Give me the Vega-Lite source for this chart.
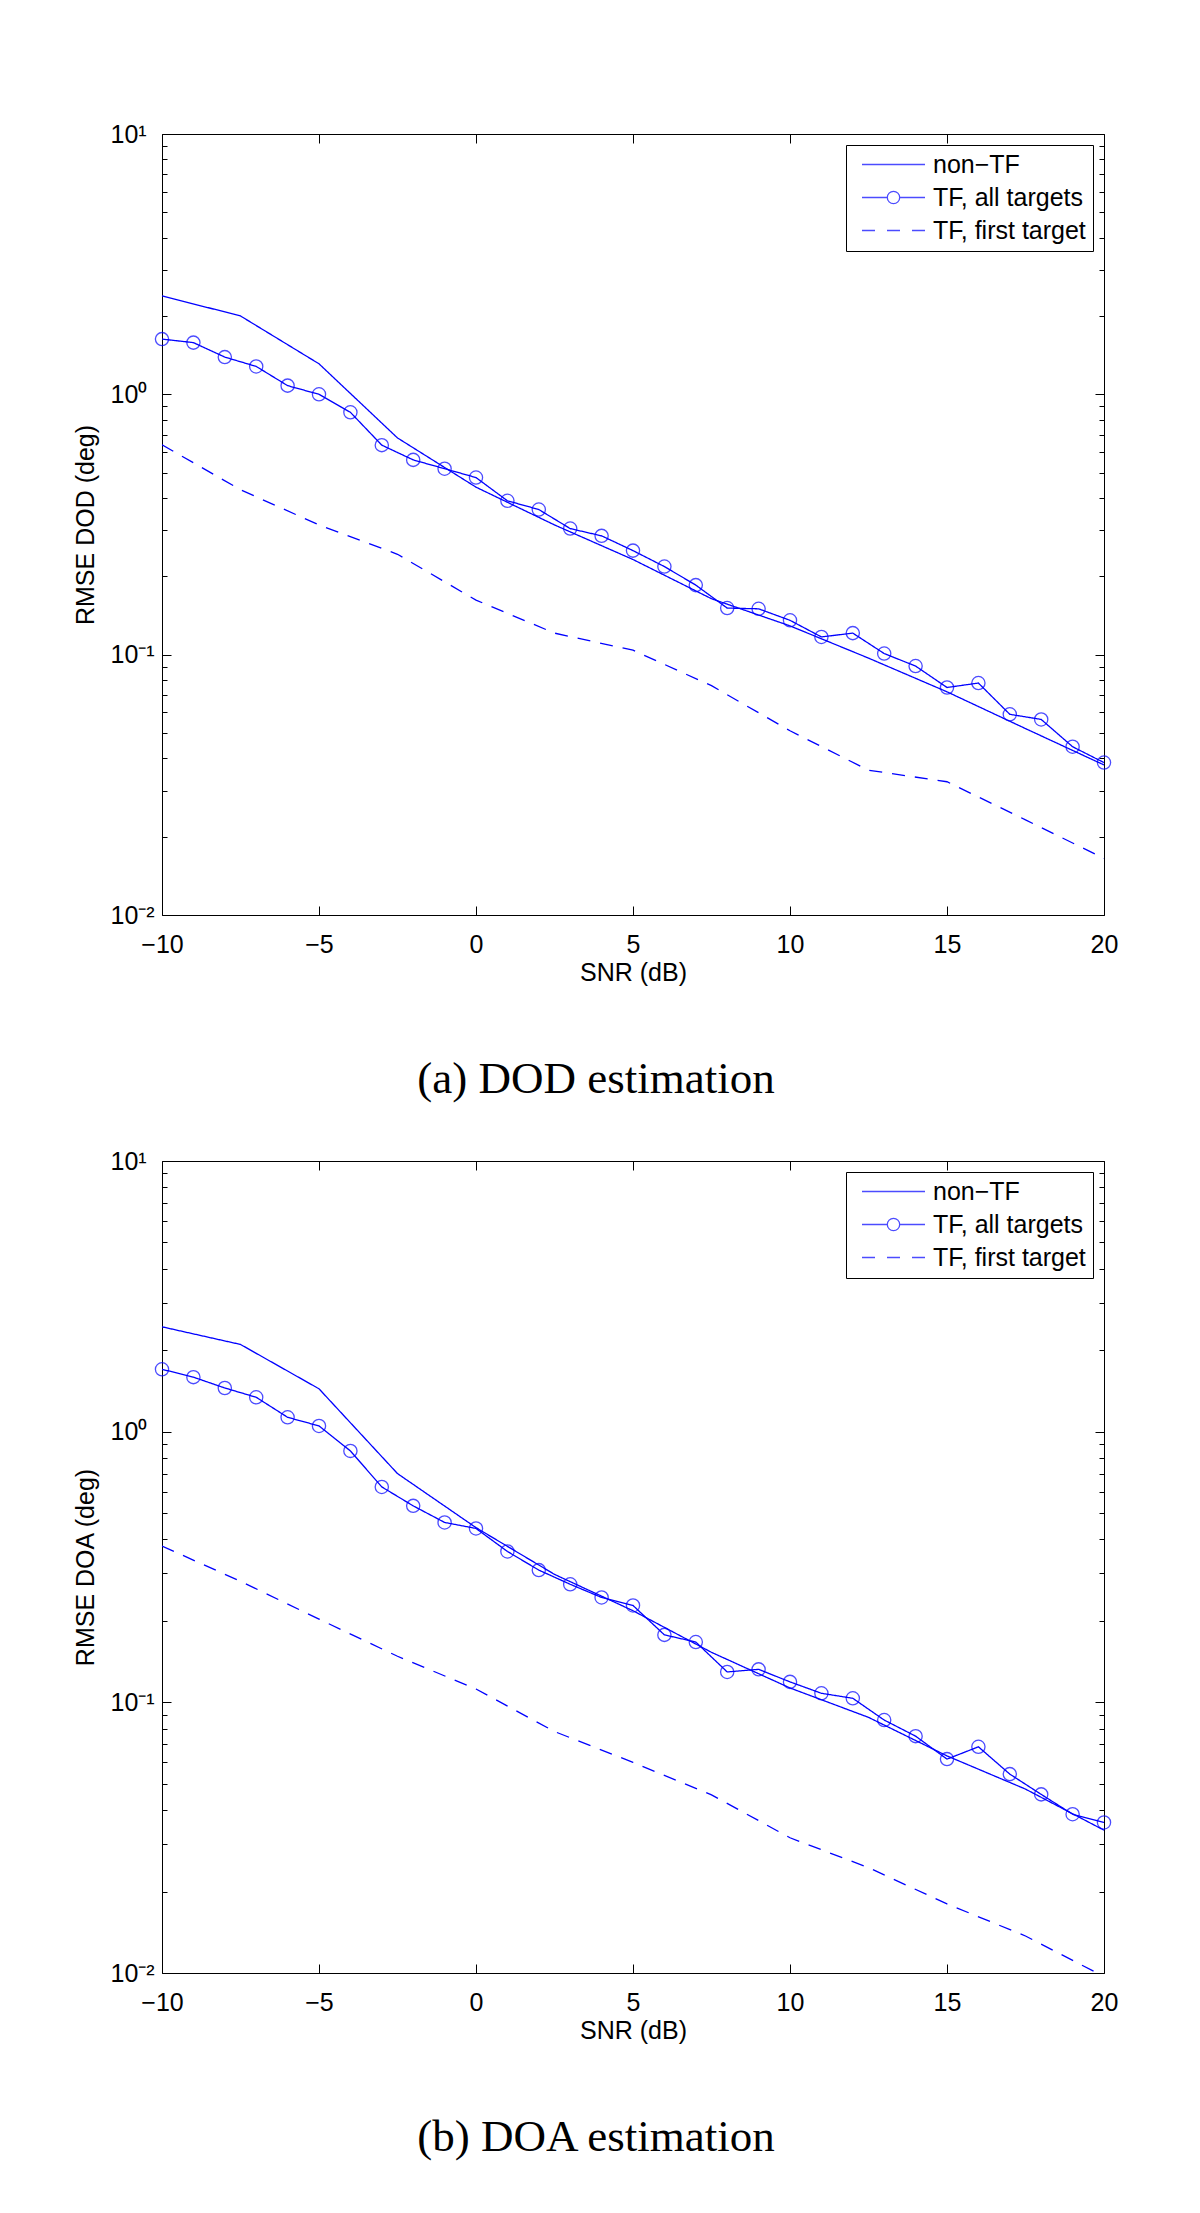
{
  "$schema": "https://vega.github.io/schema/vega-lite/v6.json",
  "background": "white",
  "padding": {"left": 73, "top": 122, "right": 10, "bottom": 10},
  "spacing": 47,
  "resolve": {"scale": {"shape": "independent", "strokeDash": "independent"}, "legend": {"shape": "independent", "strokeDash": "independent"}},
  "datasets": {
    "dod": [
      {"snr": -10, "rmse": 2.39, "series": "non−TF"},
      {"snr": -7.5, "rmse": 2.0, "series": "non−TF"},
      {"snr": -5, "rmse": 1.31, "series": "non−TF"},
      {"snr": -2.5, "rmse": 0.68, "series": "non−TF"},
      {"snr": 0, "rmse": 0.44, "series": "non−TF"},
      {"snr": 2.5, "rmse": 0.315, "series": "non−TF"},
      {"snr": 5, "rmse": 0.232, "series": "non−TF"},
      {"snr": 7.5, "rmse": 0.164, "series": "non−TF"},
      {"snr": 10, "rmse": 0.129, "series": "non−TF"},
      {"snr": 12.5, "rmse": 0.097, "series": "non−TF"},
      {"snr": 15, "rmse": 0.072, "series": "non−TF"},
      {"snr": 17.5, "rmse": 0.052, "series": "non−TF"},
      {"snr": 20, "rmse": 0.0377, "series": "non−TF"},
      {"snr": -10, "rmse": 1.63, "series": "TF, all targets"},
      {"snr": -9, "rmse": 1.58, "series": "TF, all targets"},
      {"snr": -8, "rmse": 1.39, "series": "TF, all targets"},
      {"snr": -7, "rmse": 1.28, "series": "TF, all targets"},
      {"snr": -6, "rmse": 1.08, "series": "TF, all targets"},
      {"snr": -5, "rmse": 1.0, "series": "TF, all targets"},
      {"snr": -4, "rmse": 0.853, "series": "TF, all targets"},
      {"snr": -3, "rmse": 0.638, "series": "TF, all targets"},
      {"snr": -2, "rmse": 0.56, "series": "TF, all targets"},
      {"snr": -1, "rmse": 0.518, "series": "TF, all targets"},
      {"snr": 0, "rmse": 0.479, "series": "TF, all targets"},
      {"snr": 1, "rmse": 0.39, "series": "TF, all targets"},
      {"snr": 2, "rmse": 0.361, "series": "TF, all targets"},
      {"snr": 3, "rmse": 0.305, "series": "TF, all targets"},
      {"snr": 4, "rmse": 0.286, "series": "TF, all targets"},
      {"snr": 5, "rmse": 0.251, "series": "TF, all targets"},
      {"snr": 6, "rmse": 0.218, "series": "TF, all targets"},
      {"snr": 7, "rmse": 0.185, "series": "TF, all targets"},
      {"snr": 8, "rmse": 0.151, "series": "TF, all targets"},
      {"snr": 9, "rmse": 0.15, "series": "TF, all targets"},
      {"snr": 10, "rmse": 0.1355, "series": "TF, all targets"},
      {"snr": 11, "rmse": 0.117, "series": "TF, all targets"},
      {"snr": 12, "rmse": 0.121, "series": "TF, all targets"},
      {"snr": 13, "rmse": 0.101, "series": "TF, all targets"},
      {"snr": 14, "rmse": 0.0904, "series": "TF, all targets"},
      {"snr": 15, "rmse": 0.0748, "series": "TF, all targets"},
      {"snr": 16, "rmse": 0.0778, "series": "TF, all targets"},
      {"snr": 17, "rmse": 0.059, "series": "TF, all targets"},
      {"snr": 18, "rmse": 0.0564, "series": "TF, all targets"},
      {"snr": 19, "rmse": 0.0443, "series": "TF, all targets"},
      {"snr": 20, "rmse": 0.0385, "series": "TF, all targets"},
      {"snr": -10, "rmse": 0.64, "series": "TF, first target"},
      {"snr": -7.5, "rmse": 0.43, "series": "TF, first target"},
      {"snr": -5, "rmse": 0.315, "series": "TF, first target"},
      {"snr": -2.5, "rmse": 0.243, "series": "TF, first target"},
      {"snr": 0, "rmse": 0.162, "series": "TF, first target"},
      {"snr": 2.5, "rmse": 0.121, "series": "TF, first target"},
      {"snr": 5, "rmse": 0.104, "series": "TF, first target"},
      {"snr": 7.5, "rmse": 0.076, "series": "TF, first target"},
      {"snr": 10, "rmse": 0.051, "series": "TF, first target"},
      {"snr": 12.5, "rmse": 0.036, "series": "TF, first target"},
      {"snr": 15, "rmse": 0.0325, "series": "TF, first target"},
      {"snr": 17.5, "rmse": 0.0232, "series": "TF, first target"},
      {"snr": 20, "rmse": 0.0165, "series": "TF, first target"}
    ],
    "doa": [
      {"snr": -10, "rmse": 2.44, "series": "non−TF"},
      {"snr": -7.5, "rmse": 2.1, "series": "non−TF"},
      {"snr": -5, "rmse": 1.44, "series": "non−TF"},
      {"snr": -2.5, "rmse": 0.7, "series": "non−TF"},
      {"snr": 0, "rmse": 0.442, "series": "non−TF"},
      {"snr": 2.5, "rmse": 0.297, "series": "non−TF"},
      {"snr": 5, "rmse": 0.218, "series": "non−TF"},
      {"snr": 7.5, "rmse": 0.153, "series": "non−TF"},
      {"snr": 10, "rmse": 0.113, "series": "non−TF"},
      {"snr": 12.5, "rmse": 0.088, "series": "non−TF"},
      {"snr": 15, "rmse": 0.0634, "series": "non−TF"},
      {"snr": 17.5, "rmse": 0.0478, "series": "non−TF"},
      {"snr": 20, "rmse": 0.0337, "series": "non−TF"},
      {"snr": -10, "rmse": 1.7, "series": "TF, all targets"},
      {"snr": -9, "rmse": 1.59, "series": "TF, all targets"},
      {"snr": -8, "rmse": 1.45, "series": "TF, all targets"},
      {"snr": -7, "rmse": 1.34, "series": "TF, all targets"},
      {"snr": -6, "rmse": 1.13, "series": "TF, all targets"},
      {"snr": -5, "rmse": 1.05, "series": "TF, all targets"},
      {"snr": -4, "rmse": 0.849, "series": "TF, all targets"},
      {"snr": -3, "rmse": 0.625, "series": "TF, all targets"},
      {"snr": -2, "rmse": 0.532, "series": "TF, all targets"},
      {"snr": -1, "rmse": 0.462, "series": "TF, all targets"},
      {"snr": 0, "rmse": 0.439, "series": "TF, all targets"},
      {"snr": 1, "rmse": 0.361, "series": "TF, all targets"},
      {"snr": 2, "rmse": 0.308, "series": "TF, all targets"},
      {"snr": 3, "rmse": 0.273, "series": "TF, all targets"},
      {"snr": 4, "rmse": 0.244, "series": "TF, all targets"},
      {"snr": 5, "rmse": 0.228, "series": "TF, all targets"},
      {"snr": 6, "rmse": 0.1775, "series": "TF, all targets"},
      {"snr": 7, "rmse": 0.167, "series": "TF, all targets"},
      {"snr": 8, "rmse": 0.1295, "series": "TF, all targets"},
      {"snr": 9, "rmse": 0.1324, "series": "TF, all targets"},
      {"snr": 10, "rmse": 0.119, "series": "TF, all targets"},
      {"snr": 11, "rmse": 0.108, "series": "TF, all targets"},
      {"snr": 12, "rmse": 0.1035, "series": "TF, all targets"},
      {"snr": 13, "rmse": 0.086, "series": "TF, all targets"},
      {"snr": 14, "rmse": 0.075, "series": "TF, all targets"},
      {"snr": 15, "rmse": 0.0617, "series": "TF, all targets"},
      {"snr": 16, "rmse": 0.0685, "series": "TF, all targets"},
      {"snr": 17, "rmse": 0.0543, "series": "TF, all targets"},
      {"snr": 18, "rmse": 0.0457, "series": "TF, all targets"},
      {"snr": 19, "rmse": 0.0386, "series": "TF, all targets"},
      {"snr": 20, "rmse": 0.036, "series": "TF, all targets"},
      {"snr": -10, "rmse": 0.378, "series": "TF, first target"},
      {"snr": -7.5, "rmse": 0.28, "series": "TF, first target"},
      {"snr": -5, "rmse": 0.203, "series": "TF, first target"},
      {"snr": -2.5, "rmse": 0.148, "series": "TF, first target"},
      {"snr": 0, "rmse": 0.112, "series": "TF, first target"},
      {"snr": 2.5, "rmse": 0.078, "series": "TF, first target"},
      {"snr": 5, "rmse": 0.06, "series": "TF, first target"},
      {"snr": 7.5, "rmse": 0.0455, "series": "TF, first target"},
      {"snr": 10, "rmse": 0.0316, "series": "TF, first target"},
      {"snr": 12.5, "rmse": 0.0245, "series": "TF, first target"},
      {"snr": 15, "rmse": 0.018, "series": "TF, first target"},
      {"snr": 17.5, "rmse": 0.0137, "series": "TF, first target"},
      {"snr": 20, "rmse": 0.0097, "series": "TF, first target"}
    ]
  },
  "config": {
    "view": {"stroke": null},
    "axis": {
      "grid": false,
      "domainColor": "black",
      "tickColor": "black",
      "labelColor": "black",
      "titleColor": "black",
      "labelFont": "Liberation Sans",
      "titleFont": "Liberation Sans",
      "labelFontSize": 25,
      "titleFontSize": 25,
      "titleFontWeight": "normal",
      "labelFlush": false,
      "labelOverlap": false,
      "domainWidth": 1,
      "tickWidth": 1
    },
    "legend": {
      "orient": "top-right",
      "offset": 11,
      "padding": 7,
      "strokeColor": "black",
      "fillColor": "white",
      "symbolSize": 100,
      "symbolStrokeWidth": 1.3,
      "symbolStrokeColor": "#0000ff",
      "symbolFillColor": "transparent",
      "symbolOffset": 28,
      "labelOffset": 27,
      "labelFont": "Liberation Sans",
      "labelFontSize": 25,
      "labelColor": "black",
      "rowPadding": 7
    },
    "title": {
      "font": "Liberation Serif",
      "fontSize": 45,
      "fontWeight": "normal",
      "color": "black"
    }
  },
  "vconcat": [
    {
      "width": 942,
      "height": 781,
      "title": {"text": "(a) DOD estimation", "orient": "bottom", "offset": 72, "dx": -37},
      "data": {"name": "dod"},
      "resolve": {"axis": {"x": "independent", "y": "independent"}},
      "layer": [
        {
          "mark": {"type": "line", "color": "#0000ff", "strokeWidth": 1.3, "clip": true},
          "encoding": {
            "x": {"field": "snr", "type": "quantitative", "scale": {"domain": [-10, 20], "nice": false, "zero": false},
              "axis": {"orient": "bottom", "values": [-10, -5, 0, 5, 10, 15, 20], "tickSize": -9, "labelPadding": 26, "title": "SNR (dB)", "titlePadding": 3}},
            "y": {"field": "rmse", "type": "quantitative", "scale": {"type": "log", "domain": [0.01, 10], "nice": false},
              "axis": {"orient": "left", "values": [0.01, 0.1, 1, 10], "tickSize": -9, "labelPadding": 61, "labelAlign": "left",
                "labelExpr": "datum.value >= 5 ? '10¹' : datum.value >= 0.5 ? '10⁰' : datum.value >= 0.05 ? '10⁻¹' : '10⁻²'",
                "title": "RMSE DOD (deg)", "titlePadding": 12}},
            "strokeDash": {"field": "series", "type": "nominal",
              "scale": {"domain": ["TF, first target", "TF, all targets", "non−TF"], "range": [[13, 10], [1, 0], [1, 0]]}, "legend": null}
          }
        },
        {
          "transform": [{"filter": "datum.series === 'TF, all targets'"}],
          "mark": {"type": "point", "shape": "circle", "filled": false, "color": "#0000ff", "size": 175, "strokeWidth": 1.3},
          "encoding": {
            "x": {"field": "snr", "type": "quantitative", "scale": {"domain": [-10, 20], "nice": false, "zero": false},
              "axis": {"orient": "top", "values": [-10, -5, 0, 5, 10, 15, 20], "tickSize": -9, "labels": false, "title": null}},
            "y": {"field": "rmse", "type": "quantitative", "scale": {"type": "log", "domain": [0.01, 10], "nice": false},
              "axis": {"orient": "right", "values": [0.01, 0.1, 1, 10], "tickSize": -9, "labels": false, "title": null}}
          }
        },
        {
          "transform": [{"filter": "datum.snr > 100"}],
          "mark": {"type": "point", "filled": false, "color": "#0000ff", "strokeWidth": 1.3},
          "encoding": {
            "x": {"field": "snr", "type": "quantitative", "scale": {"domain": [-10, 20], "nice": false, "zero": false}, "axis": null},
            "y": {"field": "rmse", "type": "quantitative", "scale": {"type": "log", "domain": [0.01, 10], "nice": false},
              "axis": {"orient": "left", "values": [0.02, 0.03, 0.04, 0.05, 0.06, 0.07, 0.08, 0.09, 0.2, 0.3, 0.4, 0.5, 0.6, 0.7, 0.8, 0.9, 2, 3, 4, 5, 6, 7, 8, 9], "tickSize": -5, "labels": false, "domain": false, "title": null}},
            "shape": {"field": "series", "type": "nominal",
              "scale": {"domain": ["non−TF", "TF, all targets", "TF, first target"],
                "range": ["M-6.3,0H6.3", "M-6.3,0H-1.24M1.24,0H6.3M1.24,0A1.24,1.24,0,1,1,-1.24,0A1.24,1.24,0,1,1,1.24,0", "M-6.3,0H-3.7M-1.3,0H1.3M3.7,0H6.3"]},
              "legend": {"title": null}}
          }
        },
        {
          "mark": {"type": "point", "opacity": 0},
          "encoding": {
            "x": {"field": "snr", "type": "quantitative", "scale": {"domain": [-10, 20], "nice": false, "zero": false}, "axis": null},
            "y": {"field": "rmse", "type": "quantitative", "scale": {"type": "log", "domain": [0.01, 10], "nice": false},
              "axis": {"orient": "right", "values": [0.02, 0.03, 0.04, 0.05, 0.06, 0.07, 0.08, 0.09, 0.2, 0.3, 0.4, 0.5, 0.6, 0.7, 0.8, 0.9, 2, 3, 4, 5, 6, 7, 8, 9], "tickSize": -5, "labels": false, "domain": false, "title": null}}
          }
        }
      ]
    },
    {
      "width": 942,
      "height": 812,
      "title": {"text": "(b) DOA estimation", "orient": "bottom", "offset": 72, "dx": -37},
      "data": {"name": "doa"},
      "resolve": {"axis": {"x": "independent", "y": "independent"}},
      "layer": [
        {
          "mark": {"type": "line", "color": "#0000ff", "strokeWidth": 1.3, "clip": true},
          "encoding": {
            "x": {"field": "snr", "type": "quantitative", "scale": {"domain": [-10, 20], "nice": false, "zero": false},
              "axis": {"orient": "bottom", "values": [-10, -5, 0, 5, 10, 15, 20], "tickSize": -9, "labelPadding": 26, "title": "SNR (dB)", "titlePadding": 3}},
            "y": {"field": "rmse", "type": "quantitative", "scale": {"type": "log", "domain": [0.01, 10], "nice": false},
              "axis": {"orient": "left", "values": [0.01, 0.1, 1, 10], "tickSize": -9, "labelPadding": 61, "labelAlign": "left",
                "labelExpr": "datum.value >= 5 ? '10¹' : datum.value >= 0.5 ? '10⁰' : datum.value >= 0.05 ? '10⁻¹' : '10⁻²'",
                "title": "RMSE DOA (deg)", "titlePadding": 12}},
            "strokeDash": {"field": "series", "type": "nominal",
              "scale": {"domain": ["TF, first target", "TF, all targets", "non−TF"], "range": [[13, 10], [1, 0], [1, 0]]}, "legend": null}
          }
        },
        {
          "transform": [{"filter": "datum.series === 'TF, all targets'"}],
          "mark": {"type": "point", "shape": "circle", "filled": false, "color": "#0000ff", "size": 175, "strokeWidth": 1.3},
          "encoding": {
            "x": {"field": "snr", "type": "quantitative", "scale": {"domain": [-10, 20], "nice": false, "zero": false},
              "axis": {"orient": "top", "values": [-10, -5, 0, 5, 10, 15, 20], "tickSize": -9, "labels": false, "title": null}},
            "y": {"field": "rmse", "type": "quantitative", "scale": {"type": "log", "domain": [0.01, 10], "nice": false},
              "axis": {"orient": "right", "values": [0.01, 0.1, 1, 10], "tickSize": -9, "labels": false, "title": null}}
          }
        },
        {
          "transform": [{"filter": "datum.snr > 100"}],
          "mark": {"type": "point", "filled": false, "color": "#0000ff", "strokeWidth": 1.3},
          "encoding": {
            "x": {"field": "snr", "type": "quantitative", "scale": {"domain": [-10, 20], "nice": false, "zero": false}, "axis": null},
            "y": {"field": "rmse", "type": "quantitative", "scale": {"type": "log", "domain": [0.01, 10], "nice": false},
              "axis": {"orient": "left", "values": [0.02, 0.03, 0.04, 0.05, 0.06, 0.07, 0.08, 0.09, 0.2, 0.3, 0.4, 0.5, 0.6, 0.7, 0.8, 0.9, 2, 3, 4, 5, 6, 7, 8, 9], "tickSize": -5, "labels": false, "domain": false, "title": null}},
            "shape": {"field": "series", "type": "nominal",
              "scale": {"domain": ["non−TF", "TF, all targets", "TF, first target"],
                "range": ["M-6.3,0H6.3", "M-6.3,0H-1.24M1.24,0H6.3M1.24,0A1.24,1.24,0,1,1,-1.24,0A1.24,1.24,0,1,1,1.24,0", "M-6.3,0H-3.7M-1.3,0H1.3M3.7,0H6.3"]},
              "legend": {"title": null}}
          }
        },
        {
          "mark": {"type": "point", "opacity": 0},
          "encoding": {
            "x": {"field": "snr", "type": "quantitative", "scale": {"domain": [-10, 20], "nice": false, "zero": false}, "axis": null},
            "y": {"field": "rmse", "type": "quantitative", "scale": {"type": "log", "domain": [0.01, 10], "nice": false},
              "axis": {"orient": "right", "values": [0.02, 0.03, 0.04, 0.05, 0.06, 0.07, 0.08, 0.09, 0.2, 0.3, 0.4, 0.5, 0.6, 0.7, 0.8, 0.9, 2, 3, 4, 5, 6, 7, 8, 9], "tickSize": -5, "labels": false, "domain": false, "title": null}}
          }
        }
      ]
    }
  ]
}
